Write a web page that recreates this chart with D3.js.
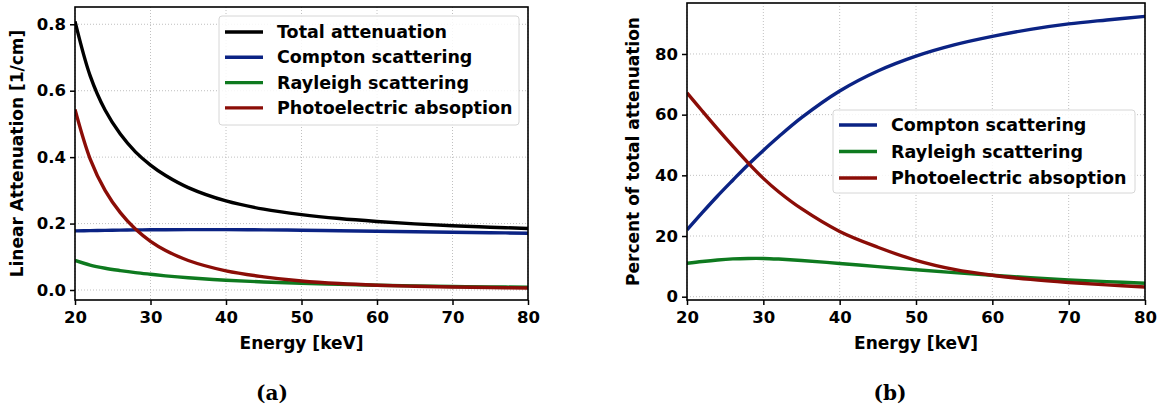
<!DOCTYPE html>
<html>
<head>
<meta charset="utf-8">
<script src="https://cdn.jsdelivr.net/npm/d3@7"></script>
<style>
  body { margin: 0; background: #fff; }
  svg text { font-family: "DejaVu Sans", sans-serif; font-weight: bold; fill: #000; }
</style>
</head>
<body>
<svg width="1165" height="409"></svg>
<script>
// energies [keV]
const energy = [20, 22, 24, 26, 28, 30, 32, 35, 40, 45, 50, 55, 60, 65, 70, 75, 80];

// (a) linear attenuation [1/cm]
const totalAtt    = [0.809, 0.6455, 0.541, 0.4695, 0.4159, 0.3761, 0.3446, 0.3083, 0.2681, 0.2433, 0.227, 0.2151, 0.2063, 0.1992, 0.1935, 0.1891, 0.1851];
const comptonAtt  = [0.178, 0.1788, 0.1796, 0.1803, 0.1809, 0.1813, 0.1816, 0.1819, 0.1818, 0.181, 0.180, 0.1785, 0.177, 0.1755, 0.174, 0.1725, 0.171];
const rayleighAtt = [0.089, 0.0749, 0.0655, 0.0585, 0.0524, 0.0474, 0.0427, 0.0368, 0.0294, 0.0241, 0.0202, 0.0171, 0.0145, 0.0125, 0.0107, 0.0094, 0.0082];
const photoAtt    = [0.5436, 0.395, 0.2992, 0.2329, 0.1834, 0.1467, 0.1192, 0.0888, 0.0576, 0.0397, 0.0272, 0.0194, 0.0145, 0.0114, 0.0091, 0.0074, 0.0059];

// (b) percent of total attenuation
const comptonPct  = [22, 27.7, 33.2, 38.4, 43.5, 48.2, 52.7, 59.0, 67.8, 74.4, 79.3, 83.0, 85.8, 88.1, 89.9, 91.2, 92.4];
const rayleighPct = [11.0, 11.6, 12.1, 12.45, 12.6, 12.6, 12.4, 11.95, 10.95, 9.9, 8.9, 7.95, 7.05, 6.25, 5.55, 4.95, 4.45];
const photoPct    = [67.2, 61.2, 55.3, 49.6, 44.1, 39.0, 34.6, 29.0, 21.5, 16.3, 12.0, 9.0, 7.05, 5.7, 4.7, 3.9, 3.2];

const xTicks = [20, 30, 40, 50, 60, 70, 80];
const yTicksA = [0, 0.2, 0.4, 0.6, 0.8];
const yTicksB = [0, 20, 40, 60, 80];

const colors = {
  total: "#000000",
  compton: "#0b2384",
  rayleigh: "#0e7a1f",
  photo: "#8b0d07"
};

const svg = d3.select("svg");

drawPanel({
  left: 75, right: 528, top: 7, bottom: 300,
  yDomain: [-0.0301, 0.852],
  yTicks: yTicksA,
  yFormat: d3.format(".1f"),
  yLabel: "Linear Attenuation [1/cm]",
  yLabelX: 17,
  series: [
    { name: "Total attenuation", values: totalAtt, color: colors.total },
    { name: "Compton scattering", values: comptonAtt, color: colors.compton },
    { name: "Rayleigh scattering", values: rayleighAtt, color: colors.rayleigh },
    { name: "Photoelectric absoption", values: photoAtt, color: colors.photo }
  ],
  legend: { x: 219, y: 16, w: 300, h: 109, rowY: 32, step: 25.3 },
  caption: "(a)", captionX: 272
});

drawPanel({
  left: 687, right: 1145, top: 3, bottom: 300,
  yDomain: [-1.09, 96.8],
  yTicks: yTicksB,
  yFormat: d3.format("d"),
  yLabel: "Percent of total attenuation",
  yLabelX: 633,
  series: [
    { name: "Compton scattering", values: comptonPct, color: colors.compton },
    { name: "Rayleigh scattering", values: rayleighPct, color: colors.rayleigh },
    { name: "Photoelectric absoption", values: photoPct, color: colors.photo }
  ],
  legend: { x: 833, y: 110, w: 302, h: 83, rowY: 125, step: 26.5 },
  caption: "(b)", captionX: 890
});

function drawPanel(p) {
  const x = d3.scaleLinear().domain([20, 80]).range([p.left, p.right]);
  const y = d3.scaleLinear().domain(p.yDomain).range([p.bottom, p.top]);
  const g = svg.append("g");

  // grid
  g.append("g").selectAll("line").data(xTicks).enter().append("line")
    .attr("x1", d => x(d)).attr("x2", d => x(d))
    .attr("y1", p.top).attr("y2", p.bottom)
    .attr("stroke", "#b0b0b0").attr("stroke-width", 0.8).attr("stroke-dasharray", "1,2");
  g.append("g").selectAll("line").data(p.yTicks).enter().append("line")
    .attr("x1", p.left).attr("x2", p.right)
    .attr("y1", d => y(d)).attr("y2", d => y(d))
    .attr("stroke", "#b0b0b0").attr("stroke-width", 0.8).attr("stroke-dasharray", "1,2");

  // curves
  const line = d3.line()
    .x((d, i) => x(energy[i]))
    .y(d => y(d))
    .curve(d3.curveCatmullRom.alpha(0.5));
  const clipId = "clip" + p.left;
  svg.append("clipPath").attr("id", clipId).append("rect")
    .attr("x", p.left).attr("y", p.top).attr("width", p.right - p.left).attr("height", p.bottom - p.top);
  g.append("g").attr("clip-path", `url(#${clipId})`)
    .selectAll("path").data(p.series).enter().append("path")
    .attr("d", d => line(d.values))
    .attr("fill", "none")
    .attr("stroke", d => d.color)
    .attr("stroke-width", 3.4)
    .attr("stroke-linecap", "butt");

  // axes
  const xAxis = d3.axisBottom(x).tickValues(xTicks).tickSize(5).tickPadding(4).tickFormat(d3.format("d"));
  const yAxis = d3.axisLeft(y).tickValues(p.yTicks).tickSize(5).tickPadding(4).tickFormat(p.yFormat);
  const gx = g.append("g").attr("transform", `translate(0,${p.bottom})`).call(xAxis);
  const gy = g.append("g").attr("transform", `translate(${p.left},0)`).call(yAxis);
  [gx, gy].forEach(a => {
    a.select(".domain").remove();
    a.selectAll(".tick line").attr("stroke", "#000").attr("stroke-width", 1.5);
    a.selectAll(".tick text").style("font-size", "16.5px").attr("fill", "#000");
  });
  gx.selectAll(".tick text").attr("dy", "0.85em");

  // frame
  g.append("rect")
    .attr("x", p.left).attr("y", p.top)
    .attr("width", p.right - p.left).attr("height", p.bottom - p.top)
    .attr("fill", "none").attr("stroke", "#000").attr("stroke-width", 1.6);

  // labels
  g.append("text")
    .attr("x", (p.left + p.right) / 2).attr("y", 349)
    .attr("text-anchor", "middle").style("font-size", "17px")
    .text("Energy [keV]");
  g.append("text")
    .attr("transform", `translate(${p.yLabelX},${(p.top + p.bottom) / 2}) rotate(-90)`)
    .attr("text-anchor", "middle").attr("dy", "0.35em").style("font-size", "17px")
    .text(p.yLabel);

  // legend
  const lg = g.append("g");
  lg.append("rect")
    .attr("x", p.legend.x).attr("y", p.legend.y)
    .attr("width", p.legend.w).attr("height", p.legend.h)
    .attr("rx", 3).attr("fill", "#fff").attr("fill-opacity", 0.85)
    .attr("stroke", "#d6d6d6").attr("stroke-width", 1);
  const rows = lg.selectAll("g.row").data(p.series).enter().append("g")
    .attr("class", "row")
    .attr("transform", (d, i) => `translate(${p.legend.x + 6},${p.legend.rowY + i * p.legend.step})`);
  rows.append("line")
    .attr("x1", 0).attr("x2", 38).attr("y1", 0).attr("y2", 0)
    .attr("stroke", d => d.color).attr("stroke-width", 3.4);
  rows.append("text")
    .attr("x", 52).attr("dy", "0.35em").style("font-size", "17.5px")
    .text(d => d.name);

  // caption
  svg.append("text")
    .attr("x", p.captionX).attr("y", 400)
    .attr("text-anchor", "middle")
    .style("font-family", "'DejaVu Serif', serif").style("font-size", "20px")
    .text(p.caption);
}
</script>
</body>
</html>
